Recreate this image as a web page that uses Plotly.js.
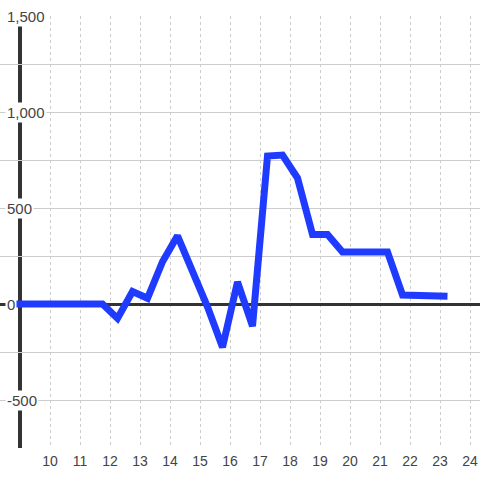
<!DOCTYPE html>
<html>
<head>
<meta charset="utf-8">
<script src="https://cdn.plot.ly/plotly-3.0.1.min.js"></script>
<style>
html,body{margin:0;padding:0;background:#fff;}
#chart{width:480px;height:480px;}
</style>
</head>
<body>
<div id="chart"></div>
<script>
// Data (hour of day, value)
var hours = [8.75, 9.25, 9.75, 10.25, 10.75, 11.25, 11.75, 12.25, 12.75, 13.25, 13.75, 14.25, 14.75, 15.25, 15.75, 16.25, 16.75, 17.25, 17.75, 18.25, 18.75, 19.25, 19.75, 20.25, 20.75, 21.25, 21.75, 22.25, 22.75, 23.25];
var values = [0, 0, 0, 0, 0, 0, 0, -75, 65, 30, 220, 355, 175, -15, -225, 115, -115, 771, 776, 656, 362, 362, 271, 271, 271, 271, 47, 42, 40, 40];
var xTicks = [10, 11, 12, 13, 14, 15, 16, 17, 18, 19, 20, 21, 22, 23, 24];
var yLabelVals = [1500, 1000, 500, 0, -500];
var yLabelText = ["1,500", "1,000", "500", "0", "-500"];

var trace = {
  x: hours,
  y: values,
  type: 'scatter',
  mode: 'lines',
  line: {color: '#1f3bff', width: 7},
  hoverinfo: 'none'
};

var annotations = yLabelVals.map(function (v, i) {
  return {
    xref: 'paper', yref: 'y',
    x: 0, y: v,
    xanchor: 'left', yanchor: 'middle',
    xshift: 5,
    text: yLabelText[i],
    showarrow: false,
    bgcolor: '#ffffff',
    borderpad: 1,
    font: {family: 'Liberation Sans, Arial, sans-serif', size: 15, color: '#444444'}
  };
});

var layout = {
  width: 480, height: 480,
  margin: {l: 0, r: 0, t: 16, b: 32, pad: 0},
  paper_bgcolor: '#ffffff',
  plot_bgcolor: '#ffffff',
  showlegend: false,
  xaxis: {
    range: [8 + 1/3, 24 + 1/3],
    tickmode: 'array',
    tickvals: xTicks,
    ticktext: xTicks.map(String),
    showgrid: true,
    gridcolor: '#cccccc',
    gridwidth: 1,
    griddash: 'dot',
    zeroline: false,
    showline: false,
    ticks: '',
    ticklabelstandoff: 3,
    tickfont: {family: 'Liberation Sans, Arial, sans-serif', size: 14, color: '#444444'},
    fixedrange: true
  },
  yaxis: {
    range: [-750, 1500],
    dtick: 250,
    tick0: 0,
    showgrid: true,
    gridcolor: '#cccccc',
    gridwidth: 1,
    zeroline: true,
    zerolinecolor: '#333333',
    zerolinewidth: 3,
    showline: false,
    showticklabels: false,
    ticks: '',
    fixedrange: true
  },
  shapes: [{
    type: 'line', xref: 'x', yref: 'paper',
    x0: 9, x1: 9, y0: 0, y1: 1,
    line: {color: '#333333', width: 4},
    layer: 'below'
  }],
  annotations: annotations
};

Plotly.newPlot('chart', [trace], layout, {displayModeBar: false, staticPlot: true});
</script>
</body>
</html>
